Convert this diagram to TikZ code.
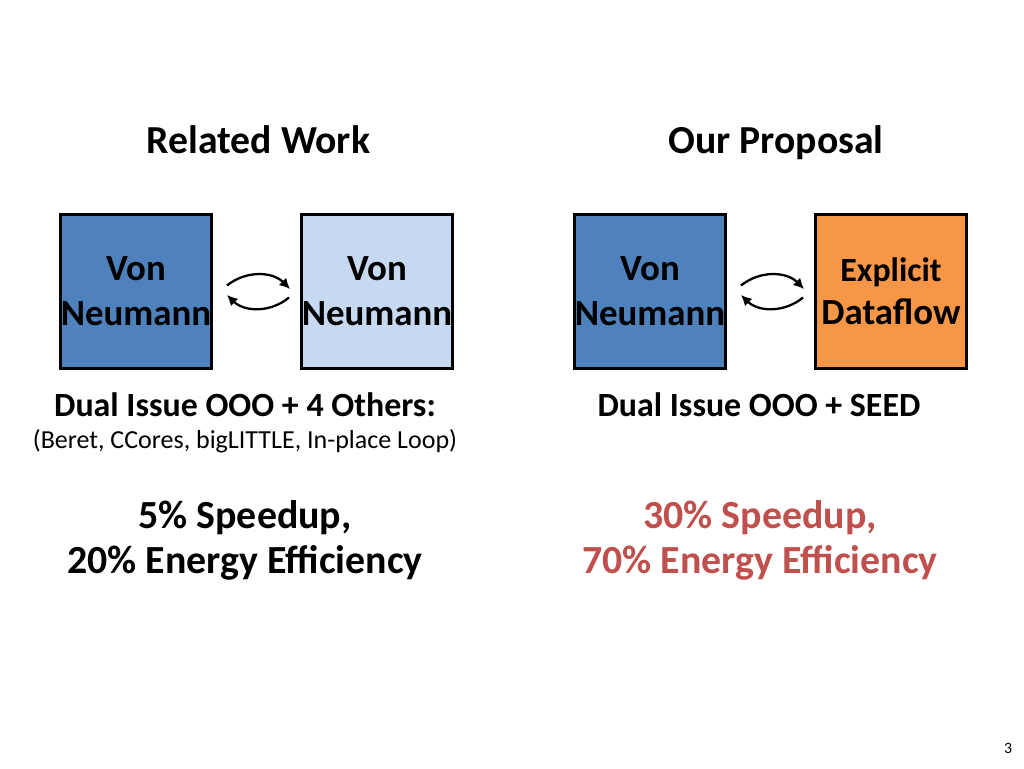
\documentclass[tikz,border=0pt]{standalone}
\usepackage{fontspec}
\setmainfont{Carlito}
\usetikzlibrary{positioning,arrows.meta}
\definecolor{vnblue}{HTML}{4F81BD}
\definecolor{vnlight}{HTML}{C6D9F1}
\definecolor{dforange}{HTML}{F79646}
\definecolor{gainred}{HTML}{C0504D}

\begin{document}
\begin{tikzpicture}[
    x=0.02cm,
    y=-0.02cm,
    core/.style={
        draw,
        line width=1.7pt,
        minimum width=3.02cm,
        minimum height=3.08cm,
        align=center,
        inner sep=0pt,
        font=\fontsize{21}{25.5}\selectfont\bfseries
        },
    handoff/.style={
        -{Latex[length=6pt,width=6pt]},
        line width=1.3pt
        },
    heading/.style={
        anchor=base,
        font=\fontsize{22.6}{26}\selectfont\bfseries
        },
    setup/.style={
        anchor=base,
        font=\fontsize{19.3}{22}\selectfont\bfseries
        },
    result/.style={
        anchor=base,
        font=\fontsize{22.7}{26}\selectfont\bfseries
        }
]

% page
\fill[white] (0,0) rectangle (1024,768);
\useasboundingbox (0,0) rectangle (1024,768);

% Headings
\node[heading] (rw_title) at (258.5,153) {Related Work};
\node[heading] (op_title) at (776,153) {Our Proposal};

% Cores
\node[core, fill=vnblue] (rw_a) at (136,291.5) {Von\\Neumann};
\node[core, fill=vnlight] (rw_b) at (377,291.5) {Von\\Neumann};
\node[core, fill=vnblue] (op_a) at (650,291.5) {Von\\Neumann};
\node[core, fill=dforange] (op_b) at (891,291.5) {{\fontsize{19.3}{22}\selectfont Explicit}\\[-1pt]{\fontsize{21}{24}\selectfont Dataflow}};

% Arrows between cores
\draw[handoff] ([shift={(0.28cm,0.12cm)}]rw_a.east) to[bend left=42] ([shift={(-0.2cm,0.05cm)}]rw_b.west);
\draw[handoff] ([shift={(-0.22cm,-0.12cm)}]rw_b.west) to[bend left=42] ([shift={(0.28cm,-0.07cm)}]rw_a.east);
\draw[handoff] ([shift={(0.28cm,0.12cm)}]op_a.east) to[bend left=42] ([shift={(-0.2cm,0.05cm)}]op_b.west);
\draw[handoff] ([shift={(-0.22cm,-0.12cm)}]op_b.west) to[bend left=42] ([shift={(0.28cm,-0.07cm)}]op_a.east);

% Configurations
\node[setup] (rw_setup) at (245,416) {Dual Issue OOO + 4 Others:};
\node[anchor=base, font=\fontsize{14.8}{17}\selectfont] (rw_list) at (245,448) {(Beret, CCores, bigLITTLE, In-place Loop)};
\node[setup] (op_setup) at (759,416) {Dual Issue OOO + SEED};

% Results
\node[result] (rw_speed) at (245,528) {5\% Speedup,};
\node[result] (rw_energy) at (245,573) {20\% Energy Efficiency};
\node[result, text=gainred] (op_speed) at (760,528) {30\% Speedup,};
\node[result, text=gainred] (op_energy) at (760,573) {70\% Energy Efficiency};

% slide number
\node[font=\fontsize{9}{11}\selectfont] (pagenum) at (1008,748) {3};

\end{tikzpicture}
\end{document}
